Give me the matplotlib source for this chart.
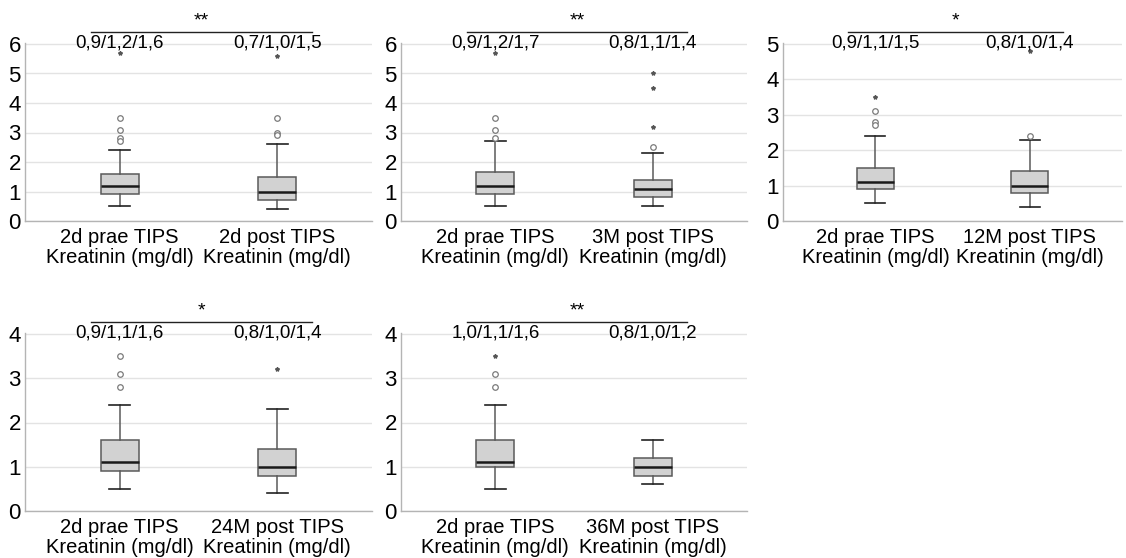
import matplotlib.pyplot as plt

plt.rcParams['font.family'] = ['Liberation Sans', 'DejaVu Sans']

# one entry per panel: [prae, post]
post_labels = ['2d post TIPS', '3M post TIPS', '12M post TIPS', '24M post TIPS', '36M post TIPS']
ymax = [6, 6, 5, 4, 4]
sig = ['**', '**', '*', '*', '**']
summary = [['0,9/1,2/1,6', '0,7/1,0/1,5'],
           ['0,9/1,2/1,7', '0,8/1,1/1,4'],
           ['0,9/1,1/1,5', '0,8/1,0/1,4'],
           ['0,9/1,1/1,6', '0,8/1,0/1,4'],
           ['1,0/1,1/1,6', '0,8/1,0/1,2']]

q1 = [[0.9, 0.7], [0.9, 0.8], [0.9, 0.8], [0.9, 0.8], [1.0, 0.8]]
med = [[1.2, 1.0], [1.2, 1.1], [1.1, 1.0], [1.1, 1.0], [1.1, 1.0]]
q3 = [[1.6, 1.5], [1.65, 1.4], [1.5, 1.4], [1.6, 1.4], [1.6, 1.2]]
whislo = [[0.5, 0.4], [0.5, 0.5], [0.5, 0.4], [0.5, 0.4], [0.5, 0.6]]
whishi = [[2.4, 2.6], [2.7, 2.3], [2.4, 2.3], [2.4, 2.3], [2.4, 1.6]]
# SPSS style: circles = outliers, stars = extreme values
circles = [[[3.5, 3.1, 2.8, 2.7], [3.5, 3.0, 2.9]],
           [[3.5, 3.1, 2.8], [2.5]],
           [[3.1, 2.8, 2.7], [2.4]],
           [[3.5, 3.1, 2.8], []],
           [[3.1, 2.8], []]]
stars = [[[5.7], [5.6]],
         [[5.7], [5.0, 4.5, 3.2]],
         [[3.5], [4.8]],
         [[], [3.2]],
         [[3.5], []]]

W, H = 1126, 558
# axes boxes in pixels: left, right, top, bottom
boxes = [(25, 372, 43, 221), (401, 747, 43, 221), (783, 1122, 43, 221),
         (25, 372, 333, 511), (401, 747, 333, 511)]

fig = plt.figure(figsize=(W / 100, H / 100), dpi=100)
grid_c = '#e3e3e3'
edge_c = '#5a5a5a'

for i in range(5):
    l, r, t, b = boxes[i]
    ax = fig.add_axes([l / W, 1 - b / H, (r - l) / W, (b - t) / H])
    stats = []
    for j in range(2):
        stats.append(dict(q1=q1[i][j], med=med[i][j], q3=q3[i][j],
                          whislo=whislo[i][j], whishi=whishi[i][j], fliers=[]))
    ax.bxp(stats, positions=[1, 2], widths=0.24, patch_artist=True, showfliers=False,
           boxprops=dict(facecolor='#d2d2d2', edgecolor=edge_c, linewidth=1.1),
           medianprops=dict(color='#1a1a1a', linewidth=1.8),
           whiskerprops=dict(color=edge_c, linewidth=1.1),
           capprops=dict(color='#222222', linewidth=1.2),
           capwidths=0.13, zorder=3)
    for j in range(2):
        if circles[i][j]:
            ax.plot([j + 1] * len(circles[i][j]), circles[i][j], 'o', ms=4,
                    mfc='white', mec='#7a7a7a', mew=0.9, zorder=4)
        if stars[i][j]:
            ax.plot([j + 1] * len(stars[i][j]), stars[i][j], '*', ms=3,
                    color='#555555', zorder=4)

    top = ymax[i] * (b - t) / (b - t - 1)
    ax.set_ylim(0, top)
    ax.set_xlim(0.4, 2.6)
    ax.set_yticks(range(ymax[i] + 1))
    ax.yaxis.grid(True, color=grid_c, linewidth=1.0)
    ax.set_axisbelow(True)
    ax.set_xticks([1, 2])
    ax.set_xticklabels(['2d prae TIPS\nKreatinin (mg/dl)',
                        post_labels[i] + '\nKreatinin (mg/dl)'],
                       fontsize=14.5, linespacing=1.08)
    ax.tick_params(axis='x', length=0, pad=5)
    ax.tick_params(axis='y', length=0, pad=3, labelsize=16)
    for lab in ax.get_yticklabels():
        lab.set_va('center_baseline')
    for s in ['top', 'right']:
        ax.spines[s].set_visible(False)
    for s in ['left', 'bottom']:
        ax.spines[s].set_color('#b4b4b4')
        ax.spines[s].set_linewidth(1.0)

    for j in range(2):
        ax.text(j + 1, top, summary[i][j], ha='center', va='center',
                fontsize=13.5, clip_on=False, zorder=5)
    tr = ax.get_xaxis_transform()
    ax.plot([0.82, 2.22], [1.062, 1.062], color='#222222', lw=1.0,
            transform=tr, clip_on=False)
    ax.text(1.52, 1.125, sig[i], ha='center', va='center', fontsize=14,
            transform=tr)

fig.savefig('out.png', dpi=100)
